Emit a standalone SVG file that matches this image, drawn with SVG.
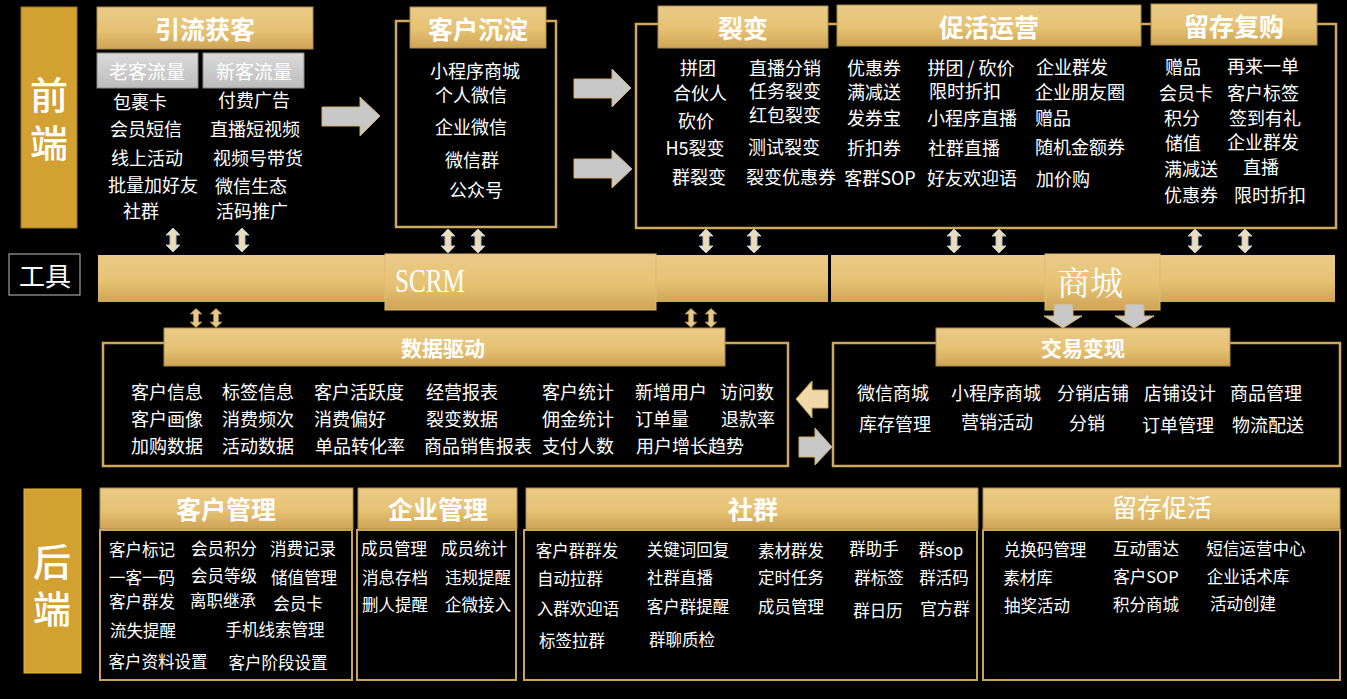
<svg xmlns="http://www.w3.org/2000/svg" width="1347" height="699" viewBox="0 0 1347 699">
<defs>
<linearGradient id="gold" x1="0" y1="0" x2="0" y2="1">
<stop offset="0" stop-color="#E9CA88"/>
<stop offset="0.55" stop-color="#E6C273"/>
<stop offset="1" stop-color="#CFA456"/>
</linearGradient>
<linearGradient id="grey" x1="0" y1="0" x2="0" y2="1">
<stop offset="0" stop-color="#DADADA"/>
<stop offset="1" stop-color="#BDBDBD"/>
</linearGradient>
<path id="dbl" d="M0,-12 L7,-5 L3,-5 L3,5 L7,5 L0,12 L-7,5 L-3,5 L-3,-5 L-7,-5 Z"/>
</defs>
<style>
.t{font-family:'Noto Sans CJK SC','Noto Sans',sans-serif;fill:#fff;font-size:18px;text-anchor:middle;dominant-baseline:central}
.s{font-size:16.5px}
.h{font-weight:bold;font-size:25px}
.h2{font-weight:bold;font-size:21px}
.big{font-size:38px;font-weight:500}
.hdr{fill:url(#gold);stroke:#A98B4C;stroke-width:1}
.box{fill:none;stroke:#CDA95E;stroke-width:2.5}
.box2{fill:none;stroke:#C9A55C;stroke-width:2}
.side{fill:#D3A131;stroke:#9C7A26;stroke-width:1}
.gb{fill:url(#grey);stroke:#8C8C8C;stroke-width:1}
.up{fill:#EDDCB8;stroke:#A9C0E0;stroke-width:1}
.sm{fill:#E5C88A;stroke:#9E7F42;stroke-width:1}
.ga{fill:#C8C8C8;stroke:#D4B06A;stroke-width:1}
.ca{fill:#F0D8A8;stroke:#C9A45C;stroke-width:1}
</style>
<rect width="1347" height="699" fill="#000"/>

<g id="label-front">
<rect class="side" x="21" y="7" width="56" height="221"/>
<text class="t big" x="49" y="92">前</text>
<text class="t big" x="49" y="140">端</text>
</g>

<g id="label-tools">
<rect x="9" y="254" width="71" height="41" fill="#000" stroke="#A0A0A0" stroke-width="1.2"/>
<text class="t" x="45" y="274" style="font-size:26px">工具</text>
</g>

<g id="label-back">
<rect class="side" x="24" y="489" width="57" height="184" style="stroke:#E8B83A"/>
<text class="t big" x="52" y="559">后</text>
<text class="t big" x="52" y="606">端</text>
</g>

<g id="node-yinliu">
<rect class="hdr" x="97" y="7" width="216" height="42"/>
<text class="t h" x="205" y="28">引流获客</text>
<rect class="gb" x="97" y="53" width="101" height="35"/>
<text class="t" x="147" y="70" style="font-size:19px">老客流量</text>
<rect class="gb" x="203" y="53" width="101" height="35"/>
<text class="t" x="254" y="70" style="font-size:19px">新客流量</text>
<text class="t" x="140" y="101">包裹卡</text>
<text class="t" x="146" y="128">会员短信</text>
<text class="t" x="147" y="157">线上活动</text>
<text class="t" x="153" y="184">批量加好友</text>
<text class="t" x="141" y="210">社群</text>
<text class="t" x="254" y="99">付费广告</text>
<text class="t" x="255" y="128">直播短视频</text>
<text class="t" x="258" y="157">视频号带货</text>
<text class="t" x="251" y="185">微信生态</text>
<text class="t" x="252" y="210">活码推广</text>
</g>

<g id="node-chendian">
<rect class="box" x="396" y="21" width="160" height="206"/>
<rect class="hdr" x="410" y="7" width="136" height="41"/>
<text class="t h" x="478" y="28">客户沉淀</text>
<text class="t" x="475" y="70">小程序商城</text>
<text class="t" x="471" y="94">个人微信</text>
<text class="t" x="471" y="126">企业微信</text>
<text class="t" x="472" y="159">微信群</text>
<text class="t" x="476" y="189">公众号</text>
</g>

<g id="node-ops">
<rect class="box" x="636" y="24" width="700" height="204"/>
</g>

<g id="node-liebian">
<rect class="hdr" x="658" y="6" width="170" height="42"/>
<text class="t h" x="743" y="27">裂变</text>
<text class="t" x="698" y="67">拼团</text>
<text class="t" x="700" y="92">合伙人</text>
<text class="t" x="696" y="120">砍价</text>
<text class="t" x="695" y="147">H5裂变</text>
<text class="t" x="699" y="176">群裂变</text>
<text class="t" x="785" y="67">直播分销</text>
<text class="t" x="785" y="90">任务裂变</text>
<text class="t" x="785" y="114">红包裂变</text>
<text class="t" x="784" y="146">测试裂变</text>
<text class="t" x="791" y="176">裂变优惠券</text>
</g>

<g id="node-cuhuo">
<rect class="hdr" x="837" y="5" width="304" height="41"/>
<text class="t h" x="989" y="26">促活运营</text>
<text class="t" x="874" y="67">优惠券</text>
<text class="t" x="874" y="91">满减送</text>
<text class="t" x="874" y="117">发券宝</text>
<text class="t" x="874" y="147">折扣券</text>
<text class="t" x="880" y="177">客群SOP</text>
<text class="t" x="971" y="67">拼团 / 砍价</text>
<text class="t" x="965" y="90">限时折扣</text>
<text class="t" x="972" y="117">小程序直播</text>
<text class="t" x="964" y="147">社群直播</text>
<text class="t" x="972" y="177">好友欢迎语</text>
<text class="t" x="1072" y="66">企业群发</text>
<text class="t" x="1080" y="91">企业朋友圈</text>
<text class="t" x="1053" y="117">赠品</text>
<text class="t" x="1080" y="146">随机金额券</text>
<text class="t" x="1063" y="178">加价购</text>
</g>

<g id="node-liucun">
<rect class="hdr" x="1151" y="4" width="166" height="41"/>
<text class="t h" x="1234" y="25">留存复购</text>
<text class="t" x="1183" y="66">赠品</text>
<text class="t" x="1186" y="92">会员卡</text>
<text class="t" x="1182" y="117">积分</text>
<text class="t" x="1183" y="142">储值</text>
<text class="t" x="1191" y="168">满减送</text>
<text class="t" x="1191" y="194">优惠券</text>
<text class="t" x="1263" y="65">再来一单</text>
<text class="t" x="1263" y="92">客户标签</text>
<text class="t" x="1265" y="117">签到有礼</text>
<text class="t" x="1263" y="141">企业群发</text>
<text class="t" x="1261" y="166">直播</text>
<text class="t" x="1270" y="194">限时折扣</text>
</g>

<g id="node-scrm">
<rect x="98" y="255" width="730" height="47" fill="url(#gold)"/>
<rect x="385" y="254" width="271" height="56" fill="url(#gold)" stroke="#DDBB78" stroke-width="1"/>
<text x="395" y="292" textLength="70" lengthAdjust="spacingAndGlyphs" style="font-family:'Liberation Serif',serif;font-size:34px;fill:#fff">SCRM</text>
</g>

<g id="node-mall">
<rect x="831" y="255" width="504" height="47" fill="url(#gold)"/>
<rect x="1045" y="254" width="115" height="56" fill="url(#gold)" stroke="#DDBB78" stroke-width="1"/>
<text class="t" x="1090" y="280" style="font-family:'Noto Serif CJK SC','Noto Sans CJK SC',serif;font-size:33px">商城</text>
</g>

<g id="node-data">
<rect class="box" x="103" y="343" width="685" height="123"/>
<rect class="hdr" x="164" y="328" width="561" height="38"/>
<text class="t h2" x="443" y="347">数据驱动</text>
<text class="t" x="167" y="391">客户信息</text>
<text class="t" x="258" y="391">标签信息</text>
<text class="t" x="359" y="391">客户活跃度</text>
<text class="t" x="462" y="391">经营报表</text>
<text class="t" x="578" y="391">客户统计</text>
<text class="t" x="671" y="391">新增用户</text>
<text class="t" x="747" y="391">访问数</text>
<text class="t" x="167" y="418">客户画像</text>
<text class="t" x="258" y="418">消费频次</text>
<text class="t" x="350" y="418">消费偏好</text>
<text class="t" x="462" y="418">裂变数据</text>
<text class="t" x="578" y="418">佣金统计</text>
<text class="t" x="662" y="418">订单量</text>
<text class="t" x="748" y="418">退款率</text>
<text class="t" x="167" y="445">加购数据</text>
<text class="t" x="258" y="445">活动数据</text>
<text class="t" x="360" y="445">单品转化率</text>
<text class="t" x="478" y="445">商品销售报表</text>
<text class="t" x="578" y="445">支付人数</text>
<text class="t" x="690" y="445">用户增长趋势</text>
</g>

<g id="node-trade">
<rect class="box" x="833" y="343" width="507" height="123"/>
<rect class="hdr" x="936" y="328" width="294" height="38"/>
<text class="t h2" x="1083" y="347">交易变现</text>
<text class="t" x="893" y="392">微信商城</text>
<text class="t" x="996" y="392">小程序商城</text>
<text class="t" x="1093" y="392">分销店铺</text>
<text class="t" x="1180" y="392">店铺设计</text>
<text class="t" x="1266" y="392">商品管理</text>
<text class="t" x="895" y="423">库存管理</text>
<text class="t" x="997" y="421">营销活动</text>
<text class="t" x="1087" y="422">分销</text>
<text class="t" x="1178" y="424">订单管理</text>
<text class="t" x="1268" y="424">物流配送</text>
</g>

<g id="node-customer">
<rect class="hdr" x="100" y="488" width="253" height="41"/>
<text class="t h" x="226" y="508">客户管理</text>
<rect class="box2" x="100" y="530" width="252" height="150"/>
<text class="t s" x="142" y="549">客户标记</text>
<text class="t s" x="224" y="548">会员积分</text>
<text class="t s" x="303" y="548">消费记录</text>
<text class="t s" x="142" y="577">一客一码</text>
<text class="t s" x="224" y="575">会员等级</text>
<text class="t s" x="304" y="577">储值管理</text>
<text class="t s" x="142" y="601">客户群发</text>
<text class="t s" x="223" y="600">离职继承</text>
<text class="t s" x="298" y="603">会员卡</text>
<text class="t s" x="143" y="630">流失提醒</text>
<text class="t s" x="275" y="629">手机线索管理</text>
<text class="t s" x="158" y="661">客户资料设置</text>
<text class="t s" x="278" y="662">客户阶段设置</text>
</g>

<g id="node-enterprise">
<rect class="hdr" x="358" y="488" width="159" height="41"/>
<text class="t h" x="438" y="508">企业管理</text>
<rect class="box2" x="357" y="530" width="159" height="150"/>
<text class="t s" x="394" y="548">成员管理</text>
<text class="t s" x="474" y="548">成员统计</text>
<text class="t s" x="395" y="577">消息存档</text>
<text class="t s" x="478" y="577">违规提醒</text>
<text class="t s" x="395" y="604">删人提醒</text>
<text class="t s" x="478" y="604">企微接入</text>
</g>

<g id="node-community">
<rect class="hdr" x="526" y="488" width="452" height="41"/>
<text class="t h" x="753" y="508">社群</text>
<rect class="box2" x="524" y="530" width="453" height="150"/>
<text class="t s" x="577" y="550">客户群群发</text>
<text class="t s" x="688" y="549">关键词回复</text>
<text class="t s" x="791" y="550">素材群发</text>
<text class="t s" x="874" y="548">群助手</text>
<text class="t s" x="941" y="549">群sop</text>
<text class="t s" x="570" y="578">自动拉群</text>
<text class="t s" x="680" y="577">社群直播</text>
<text class="t s" x="791" y="577">定时任务</text>
<text class="t s" x="879" y="577">群标签</text>
<text class="t s" x="944" y="577">群活码</text>
<text class="t s" x="578" y="608">入群欢迎语</text>
<text class="t s" x="688" y="606">客户群提醒</text>
<text class="t s" x="791" y="606">成员管理</text>
<text class="t s" x="878" y="610">群日历</text>
<text class="t s" x="945" y="608">官方群</text>
<text class="t s" x="572" y="640">标签拉群</text>
<text class="t s" x="682" y="639">群聊质检</text>
</g>

<g id="node-retain">
<rect class="hdr" x="983" y="488" width="357" height="41"/>
<text class="t" x="1162" y="506" style="font-size:25px">留存促活</text>
<rect class="box2" x="983" y="530" width="357" height="150"/>
<text class="t s" x="1045" y="549">兑换码管理</text>
<text class="t s" x="1146" y="548">互动雷达</text>
<text class="t s" x="1256" y="548">短信运营中心</text>
<text class="t s" x="1028" y="577">素材库</text>
<text class="t s" x="1146" y="576">客户SOP</text>
<text class="t s" x="1248" y="576">企业话术库</text>
<text class="t s" x="1037" y="605">抽奖活动</text>
<text class="t s" x="1146" y="604">积分商城</text>
<text class="t s" x="1243" y="603">活动创建</text>
</g>

<g id="connectors">
<path class="ga" d="M322,107 L360,107 L360,97 L380,116 L360,136 L360,126 L322,126 Z"/>
<path class="ga" d="M574,79 L612,79 L612,69 L631,88 L612,107 L612,98 L574,98 Z"/>
<path class="ga" d="M574,159 L612,159 L612,150 L632,169 L612,188 L612,178 L574,178 Z"/>
<use href="#dbl" class="up" x="173" y="240"/>
<use href="#dbl" class="up" x="242" y="240"/>
<use href="#dbl" class="up" x="448" y="241"/>
<use href="#dbl" class="up" x="478" y="241"/>
<use href="#dbl" class="up" x="706" y="241"/>
<use href="#dbl" class="up" x="754" y="241"/>
<use href="#dbl" class="up" x="954" y="241"/>
<use href="#dbl" class="up" x="999" y="241"/>
<use href="#dbl" class="up" x="1195" y="241"/>
<use href="#dbl" class="up" x="1245" y="241"/>
<g transform="translate(196,318) scale(0.85,0.8)"><use href="#dbl" class="sm"/></g>
<g transform="translate(216,318) scale(0.85,0.8)"><use href="#dbl" class="sm"/></g>
<g transform="translate(691,318) scale(0.85,0.8)"><use href="#dbl" class="sm"/></g>
<g transform="translate(711,318) scale(0.85,0.8)"><use href="#dbl" class="sm"/></g>
<path class="ga" d="M1054,304 L1073,304 L1073,316 L1082,316 L1063,328 L1044,316 L1054,316 Z"/>
<path class="ga" d="M1125,304 L1144,304 L1144,316 L1154,316 L1134,328 L1115,316 L1125,316 Z"/>
<path class="ca" d="M828,390 L812,390 L812,381 L796,399 L812,418 L812,408 L828,408 Z"/>
<path class="ga" d="M799,437 L815,437 L815,428 L832,447 L815,465 L815,457 L799,457 Z"/>
</g>
</svg>
